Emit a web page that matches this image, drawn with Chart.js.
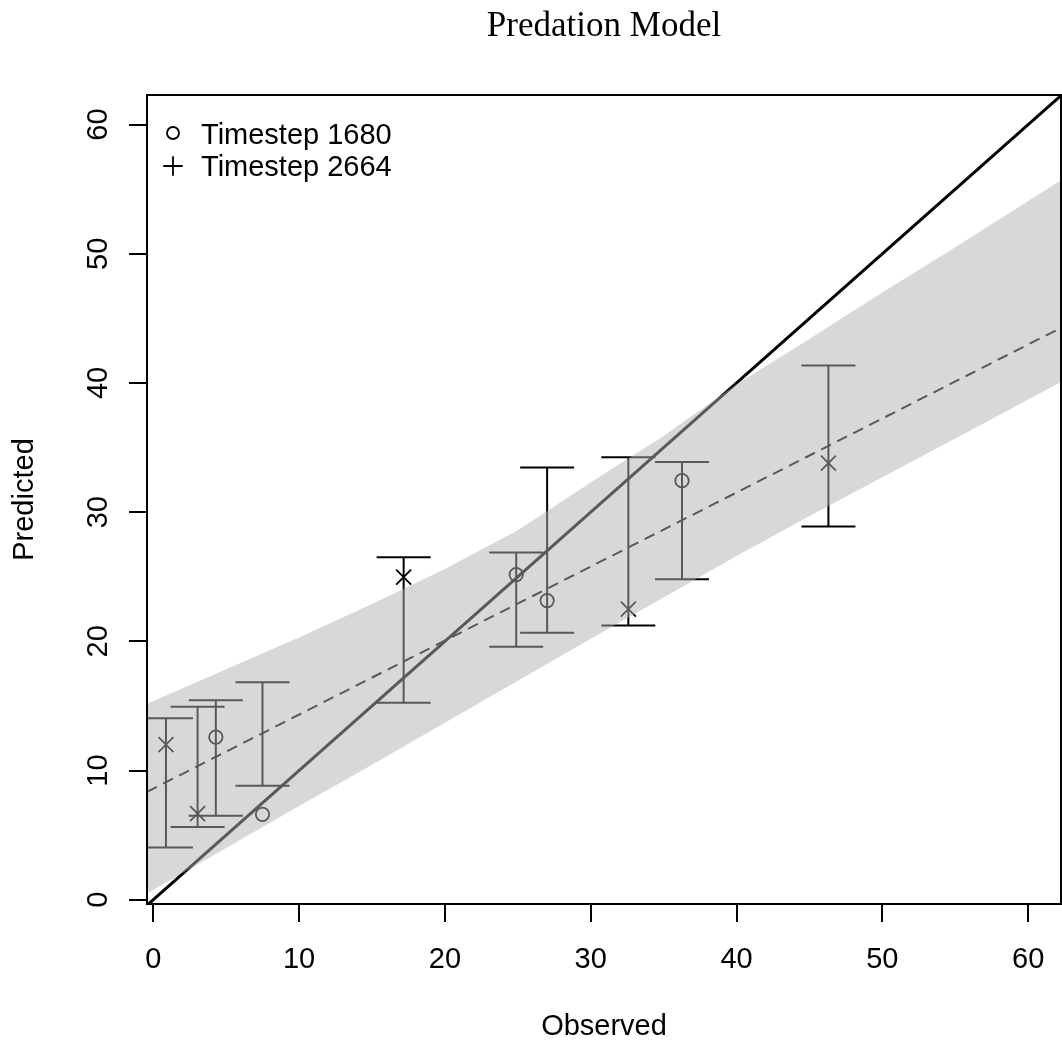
<!DOCTYPE html>
<html>
<head>
<meta charset="utf-8">
<title>Predation Model</title>
<script src="https://cdn.jsdelivr.net/npm/chart.js@4.4.0/dist/chart.umd.min.js"></script>
<style>
    html, body { margin: 0; padding: 0; background: #fff; overflow: hidden; }
    canvas { display: block; }
</style>
</head>
<body>
<canvas id="myChart" width="1062" height="1044"></canvas>
<script>
// axis limits and tick values
var xRange = [-0.43, 62.25];
var yRange = [-0.33, 62.29];
var tickValues = [0, 10, 20, 30, 40, 50, 60];

// Timestep 1680 (circles)
var obs1680 = [4.29, 7.49, 24.89, 27.01, 36.26];
var pred1680 = [12.59, 6.61, 25.17, 23.16, 32.44];
var low1680 = [6.51, 8.83, 19.58, 20.67, 24.81];
var high1680 = [15.45, 16.84, 26.88, 33.45, 33.89];

// Timestep 2664 (crosses)
var obs2664 = [0.87, 3.04, 17.17, 32.58, 46.3];
var pred2664 = [12.0, 6.67, 24.97, 22.5, 33.8];
var low2664 = [4.04, 5.63, 15.25, 21.22, 28.89];
var high2664 = [14.04, 14.94, 26.51, 34.25, 41.36];

// grey band
var bandX = [-0.43, 5, 10, 15, 20, 25, 30, 35, 40, 45, 50, 55, 62.25];
var bandUpper = [15.17, 17.85, 20.3, 22.9, 25.6, 28.6, 32.3, 35.9, 39.9, 43.4, 47.0, 50.5, 55.7];
var bandLower = [0.48, 4.0, 7.25, 10.45, 13.7, 16.95, 20.2, 23.4, 26.6, 29.7, 32.7, 35.7, 40.08];

// lines: [intercept, slope]
var refLine = [0, 1];
var fitLine = [8.6, 0.573];

var sansFont = '"Liberation Sans", Arial, sans-serif';
var serifFont = '"Liberation Serif", "Times New Roman", serif';

function lineFrom(p) {
    return xRange.map(function (x) { return {x: x, y: p[0] + p[1] * x}; });
}
function pairs(xs, ys) {
    return xs.map(function (x, i) { return {x: x, y: ys[i]}; });
}

// error bars, drawn under everything else
var errorBars = {
    id: 'errorBars',
    beforeDatasetsDraw: function (chart) {
        var ctx = chart.ctx, xs = chart.scales.x, ys = chart.scales.y, a = chart.chartArea;
        var cap = 27;
        ctx.save();
        ctx.beginPath();
        ctx.rect(a.left, a.top, a.right - a.left, a.bottom - a.top);
        ctx.clip();
        ctx.strokeStyle = '#000';
        ctx.lineWidth = 2;
        function draw(xv, lo, hi) {
            for (var i = 0; i < xv.length; i++) {
                var px = xs.getPixelForValue(xv[i]);
                var pl = ys.getPixelForValue(lo[i]);
                var ph = ys.getPixelForValue(hi[i]);
                ctx.beginPath();
                ctx.moveTo(px, pl); ctx.lineTo(px, ph);
                ctx.moveTo(px - cap, pl); ctx.lineTo(px + cap, pl);
                ctx.moveTo(px - cap, ph); ctx.lineTo(px + cap, ph);
                ctx.stroke();
            }
        }
        draw(obs1680, low1680, high1680);
        draw(obs2664, low2664, high2664);
        ctx.restore();
    }
};

// box, labels, title and legend in R style
var decorations = {
    id: 'decorations',
    afterDraw: function (chart) {
        var ctx = chart.ctx, xs = chart.scales.x, ys = chart.scales.y, a = chart.chartArea;
        var cx = (a.left + a.right) / 2, cy = (a.top + a.bottom) / 2;
        ctx.save();
        ctx.strokeStyle = '#000';
        ctx.lineWidth = 2;
        ctx.strokeRect(a.left, a.top, a.right - a.left, a.bottom - a.top);

        ctx.fillStyle = '#000';
        ctx.font = '29px ' + sansFont;
        ctx.textAlign = 'center';
        ctx.textBaseline = 'alphabetic';
        tickValues.forEach(function (v) {
            ctx.fillText(String(v), xs.getPixelForValue(v), a.bottom + 64);
        });
        tickValues.forEach(function (v) {
            ctx.save();
            ctx.translate(a.left - 40, ys.getPixelForValue(v));
            ctx.rotate(-Math.PI / 2);
            ctx.fillText(String(v), 0, 0);
            ctx.restore();
        });

        ctx.fillText('Observed', cx, 1035);
        ctx.save();
        ctx.translate(33, cy);
        ctx.rotate(-Math.PI / 2);
        ctx.fillText('Predicted', 0, 0);
        ctx.restore();

        ctx.font = '35px ' + serifFont;
        ctx.fillText('Predation Model', cx, 36);

        // legend
        ctx.font = '29px ' + sansFont;
        ctx.textAlign = 'left';
        ctx.lineWidth = 1.8;
        var lx = a.left + 26;
        ctx.beginPath();
        ctx.arc(lx, a.top + 38, 6, 0, Math.PI * 2);
        ctx.stroke();
        ctx.fillText('Timestep 1680', a.left + 54, a.top + 48.5);
        ctx.beginPath();
        ctx.moveTo(lx - 9.7, a.top + 71); ctx.lineTo(lx + 9.7, a.top + 71);
        ctx.moveTo(lx, a.top + 61.3); ctx.lineTo(lx, a.top + 80.7);
        ctx.stroke();
        ctx.fillText('Timestep 2664', a.left + 54, a.top + 81);
        ctx.restore();
    }
};

var ctx = document.getElementById('myChart').getContext('2d');
var chart = new Chart(ctx, {
    type: 'line',
    data: {
        datasets: [
            {
                label: 'band',
                data: pairs(bandX, bandUpper),
                fill: '+1',
                backgroundColor: 'rgba(178,178,178,0.5)',
                borderWidth: 0,
                pointRadius: 0
            },
            {
                label: 'bandLow',
                data: pairs(bandX, bandLower),
                fill: false,
                borderWidth: 0,
                pointRadius: 0
            },
            {
                label: '1:1',
                data: lineFrom(refLine),
                borderColor: '#000',
                borderWidth: 3,
                pointRadius: 0,
                fill: false
            },
            {
                label: 'fit',
                data: lineFrom(fitLine),
                borderColor: '#000',
                borderWidth: 2,
                borderDash: [11, 7],
                pointRadius: 0,
                fill: false
            },
            {
                label: 'Timestep 1680',
                data: pairs(obs1680, pred1680),
                showLine: false,
                pointStyle: 'circle',
                pointRadius: 6.7,
                pointBorderWidth: 1.8,
                pointBorderColor: '#000',
                pointBackgroundColor: 'rgba(0,0,0,0)'
            },
            {
                label: 'Timestep 2664',
                data: pairs(obs2664, pred2664),
                showLine: false,
                pointStyle: 'crossRot',
                pointRadius: 10.6,
                pointBorderWidth: 1.8,
                pointBorderColor: '#000'
            }
        ]
    },
    options: {
        responsive: false,
        animation: false,
        devicePixelRatio: 1,
        events: [],
        layout: { autoPadding: false, padding: { top: 95, right: 1, left: 0, bottom: 0 } },
        plugins: {
            legend: { display: false },
            title: { display: false },
            tooltip: { enabled: false }
        },
        scales: {
            x: {
                type: 'linear',
                min: xRange[0],
                max: xRange[1],
                afterBuildTicks: function (s) {
                    s.ticks = tickValues.map(function (v) { return {value: v}; });
                },
                afterFit: function (s) {
                    s.height = 140;
                    s.paddingLeft = 0;
                    s.paddingRight = 0;
                },
                grid: { display: true, drawOnChartArea: false, drawTicks: true, tickLength: 18, color: '#000', lineWidth: 2 },
                border: { display: false },
                ticks: { display: false }
            },
            y: {
                type: 'linear',
                min: yRange[0],
                max: yRange[1],
                afterBuildTicks: function (s) {
                    s.ticks = tickValues.map(function (v) { return {value: v}; });
                },
                afterFit: function (s) {
                    s.width = 147;
                    s.paddingTop = 0;
                    s.paddingBottom = 0;
                },
                grid: { display: true, drawOnChartArea: false, drawTicks: true, tickLength: 18, color: '#000', lineWidth: 2 },
                border: { display: false },
                ticks: { display: false }
            }
        }
    },
    plugins: [errorBars, decorations]
});
</script>
</body>
</html>
